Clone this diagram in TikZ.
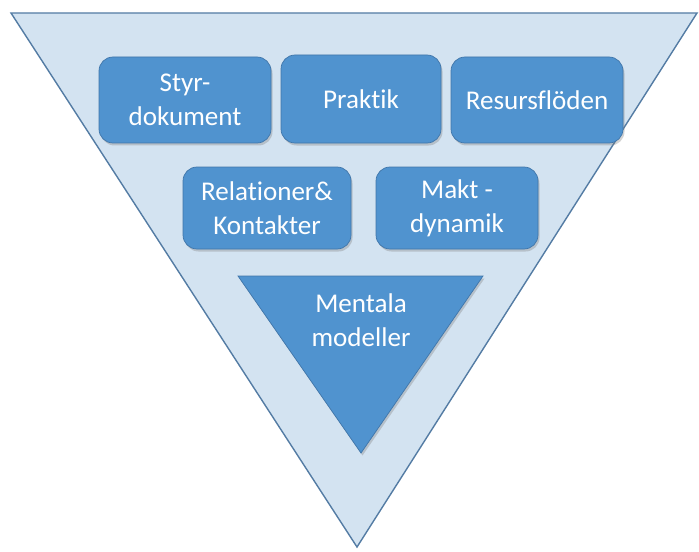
\documentclass[tikz,border=0pt]{standalone}
\usepackage{fontspec}
\setmainfont{Carlito}[Ligatures={NoCommon}]
\usetikzlibrary{shadows}

\definecolor{outerfill}{RGB}{211,227,241}
\definecolor{outerline}{RGB}{84,124,164}
\definecolor{boxfill}{RGB}{80,147,207}
\definecolor{boxline}{RGB}{64,118,170}

\tikzset{
  areabox/.style={draw=boxline, fill=boxfill, rounded corners=0.28cm, text=white,
    align=center, font=\fontsize{15.4}{19.4}\selectfont, inner sep=0pt,
    drop shadow={opacity=0.35, shadow xshift=0.03cm, shadow yshift=-0.05cm}},
}

\begin{document}
\begin{tikzpicture}
            \useasboundingbox (0,0) rectangle (13.98,11.02);

            \coordinate (A) at (0.22,10.76);
            \coordinate (B) at (13.94,10.76);
            \coordinate (C) at (7.14,0.08);

            \draw[outerline, fill=outerfill, line width=0.8pt] (A) -- (B) -- (C) -- cycle;

            \node[areabox, minimum width=3.44cm, minimum height=1.72cm] (styr) at (3.70,9.02) {Styr-\\dokument};
            \node[areabox, minimum width=3.20cm, minimum height=1.76cm] (praktik) at (7.22,9.04) {Praktik};
            \node[areabox, minimum width=3.44cm, minimum height=1.72cm] (resurs) at (10.74,9.02) {Resursflöden};

            \node[areabox, minimum width=3.36cm, minimum height=1.64cm] (relation) at (5.34,6.86) {Relationer\&\\Kontakter};
            \node[areabox, minimum width=3.24cm, minimum height=1.64cm] (makt) at (9.14,6.86) {Makt -\\dynamik};

            \coordinate (D) at (4.76,5.50);
            \coordinate (E) at (9.66,5.50);
            \coordinate (F) at (7.22,1.96);

            \draw[boxline, fill=boxfill, drop shadow={opacity=0.35, shadow xshift=0.03cm, shadow yshift=-0.05cm}] (D) -- (E) -- (F) -- cycle;
            \node[text=white, align=center, font=\fontsize{15.4}{19.4}\selectfont] (mentala) at (7.22,4.62) {Mentala\\modeller};
        \end{tikzpicture}
\end{document}
